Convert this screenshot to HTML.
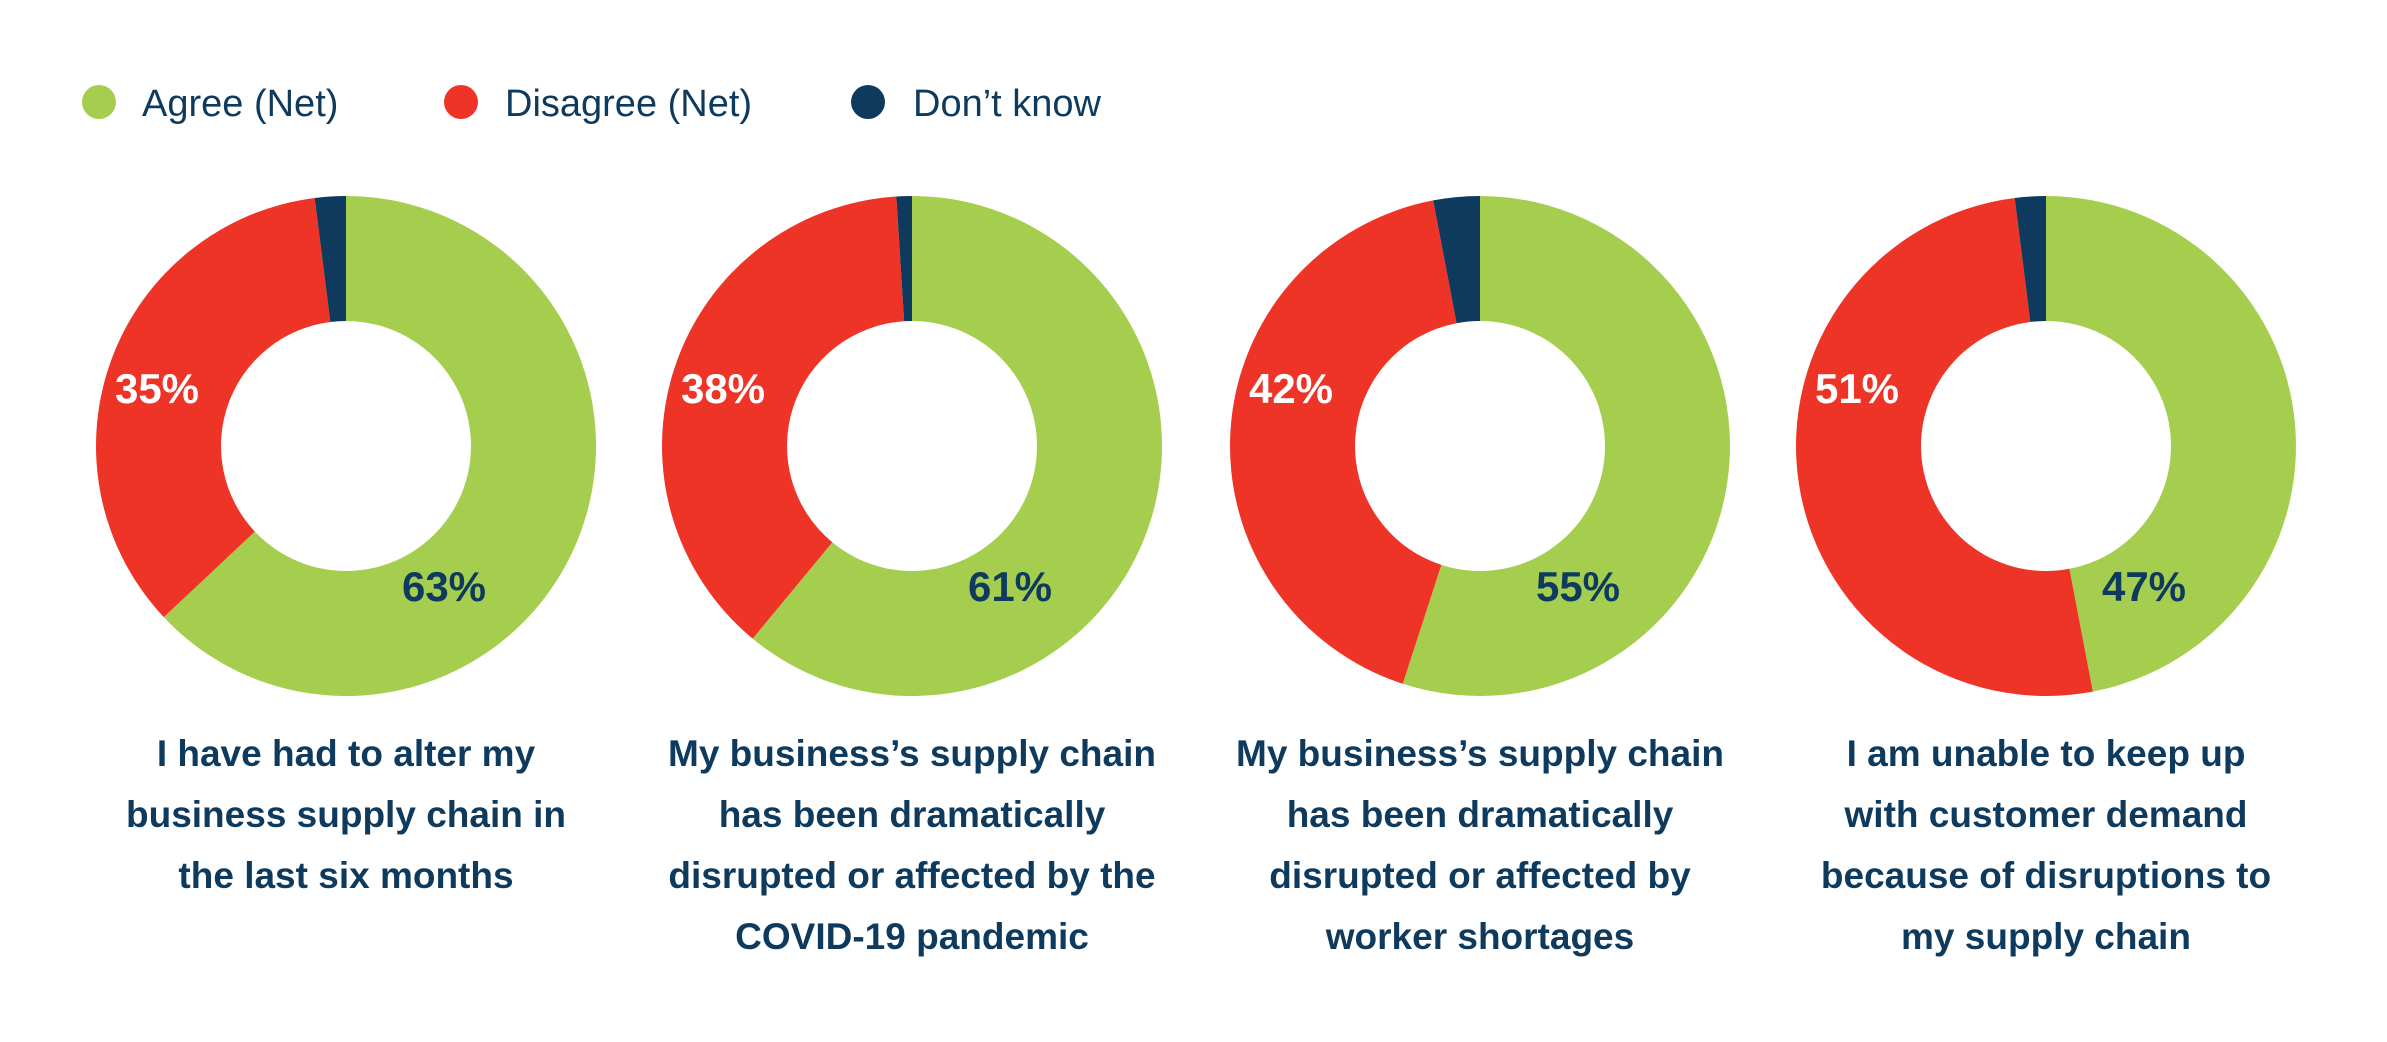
<!DOCTYPE html>
<html><head><meta charset="utf-8"><style>
body{margin:0;background:#fff;width:2387px;height:1042px;overflow:hidden;font-family:"Liberation Sans",sans-serif}
svg{display:block}
</style></head><body>
<svg id="chart" width="2387" height="1042" viewBox="0 0 2387 1042">
<g>
<g><circle cx="99" cy="102" r="17" fill="#A6CE4E"/><text x="142" y="116" font-size="38" fill="#0E3A5E">Agree (Net)</text></g>
<g><circle cx="461" cy="102" r="17" fill="#EE3426"/><text x="505" y="116" font-size="38" fill="#0E3A5E">Disagree (Net)</text></g>
<g><circle cx="868" cy="102" r="17" fill="#0E3A5E"/><text x="913" y="116" font-size="38" fill="#0E3A5E">Don’t know</text></g>
</g>
<g id="donuts"></g>
</svg>
<script>
const agree=[63,61,55,47];
const disagree=[35,38,42,51];
const dontKnow=[2,1,3,2];
const captions=[
["I have had to alter my","business supply chain in","the last six months"],
["My business’s supply chain","has been dramatically","disrupted or affected by the","COVID-19 pandemic"],
["My business’s supply chain","has been dramatically","disrupted or affected by","worker shortages"],
["I am unable to keep up","with customer demand","because of disruptions to","my supply chain"]];
const NS="http://www.w3.org/2000/svg";
const g=document.getElementById('donuts');
const cxs=[346,912,1480,2046], cy=446, R=250, r=125;
function pt(rad,f){const a=f*2*Math.PI;return [Math.sin(a)*rad,-Math.cos(a)*rad];}
function arc(cx,f0,f1){
 const large=(f1-f0)>0.5?1:0;
 const [x0,y0]=pt(R,f0),[x1,y1]=pt(R,f1),[x2,y2]=pt(r,f1),[x3,y3]=pt(r,f0);
 return `M${cx+x0},${cy+y0}A${R},${R} 0 ${large} 1 ${cx+x1},${cy+y1}L${cx+x2},${cy+y2}A${r},${r} 0 ${large} 0 ${cx+x3},${cy+y3}Z`;
}
const names=['agree','disagree','dont-know'], cols=['#A6CE4E','#EE3426','#0E3A5E'];
for(let i=0;i<4;i++){
 const cx=cxs[i];
 const grp=document.createElementNS(NS,'g');
 
 
 const vals=[agree[i],disagree[i],dontKnow[i]];
 const tot=vals[0]+vals[1]+vals[2];
 let acc=0;
 vals.forEach((v,k)=>{
  const p=document.createElementNS(NS,'path');
  p.setAttribute('d',arc(cx,acc/tot,(acc+v)/tot));
  p.setAttribute('fill',cols[k]);
  
  
  grp.appendChild(p);acc+=v;
 });
 const t1=document.createElementNS(NS,'text');
 t1.setAttribute('x',cx-189);t1.setAttribute('y',403);
 t1.setAttribute('text-anchor','middle');t1.setAttribute('font-size','42');t1.setAttribute('font-weight','bold');t1.setAttribute('fill','#fff');
 t1.textContent=disagree[i]+'%';
 
 
 grp.appendChild(t1);
 const t2=document.createElementNS(NS,'text');
 t2.setAttribute('x',cx+98);t2.setAttribute('y',601);
 t2.setAttribute('text-anchor','middle');t2.setAttribute('font-size','42');t2.setAttribute('font-weight','bold');t2.setAttribute('fill','#0E3A5E');
 t2.textContent=agree[i]+'%';
 
 
 grp.appendChild(t2);
 const cap=document.createElementNS(NS,'text');
 
 
 cap.setAttribute('text-anchor','middle');cap.setAttribute('font-size','37');cap.setAttribute('font-weight','bold');cap.setAttribute('fill','#0E3A5E');
 captions[i].forEach((line,j)=>{
  const ts=document.createElementNS(NS,'tspan');
  ts.setAttribute('x',cx);ts.setAttribute('y',766+j*61);
  ts.textContent=line;cap.appendChild(ts);
 });
 grp.appendChild(cap);
 g.appendChild(grp);
}
</script>
</body></html>
